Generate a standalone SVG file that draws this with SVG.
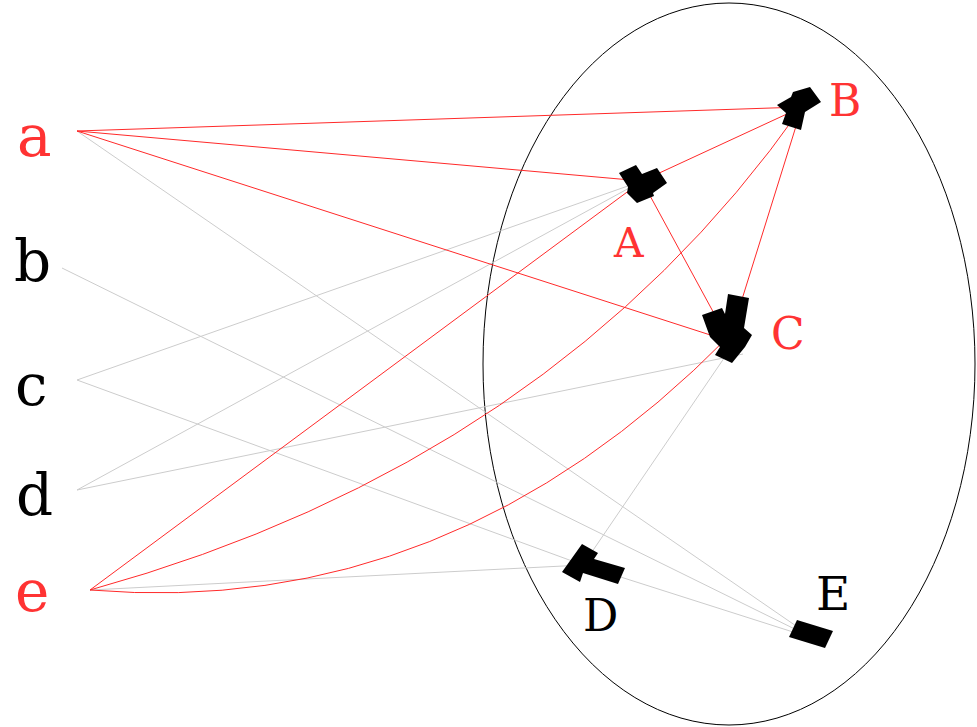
<svg xmlns="http://www.w3.org/2000/svg" width="977" height="727" viewBox="0 0 977 727">
<style>
text{font-family:"DejaVu Serif",serif;}
.lo{font-size:58px;}
.up{font-size:44px;}
.red{fill:#ff3333;}
.blk{fill:#000;}
.er{stroke:#ff2a2a;stroke-width:1;fill:none;}
.eg{stroke:#cccccc;stroke-width:1;fill:none;}
.mk{fill:#000;stroke:none;}
</style>
<rect width="977" height="727" fill="#fff"/>
<ellipse id="set" cx="729" cy="364" rx="246" ry="361" fill="none" stroke="#000" stroke-width="1"/>
<g id="connectors">
<line class="eg" x1="77" y1="131" x2="815" y2="639"/>
<line class="eg" x1="62" y1="268" x2="815" y2="639"/>
<line class="eg" x1="77" y1="380" x2="642" y2="181"/>
<line class="eg" x1="77" y1="380" x2="583" y2="565"/>
<line class="eg" x1="77" y1="490" x2="642" y2="181"/>
<line class="eg" x1="77" y1="490" x2="743" y2="354"/>
<line class="eg" x1="90" y1="590" x2="583" y2="565"/>
<line class="eg" x1="733" y1="345" x2="583" y2="565"/>
<line class="eg" x1="583" y1="565" x2="815" y2="639"/>
<line class="er" x1="77" y1="131" x2="802" y2="107"/>
<line class="er" x1="77" y1="131" x2="642" y2="181"/>
<line class="er" x1="77" y1="131" x2="729" y2="341"/>
<line class="er" x1="90" y1="590" x2="642" y2="181"/>
<path class="er" d="M90,590 Q553,462 802,107"/>
<path class="er" d="M90,590 Q450,620 729,336"/>
<line class="er" x1="642" y1="181" x2="802" y2="107"/>
<line class="er" x1="642" y1="181" x2="729" y2="341"/>
<line class="er" x1="802" y1="107" x2="729" y2="341"/>
</g>
<g id="node-a"><text class="lo red" x="17" y="156">a</text></g>
<g id="node-b"><text class="lo blk" x="14" y="281">b</text></g>
<g id="node-c"><text class="lo blk" x="15" y="405">c</text></g>
<g id="node-d"><text class="lo blk" x="16" y="515">d</text></g>
<g id="node-e"><text class="lo red" x="15" y="611">e</text></g>
<g id="node-A">
<polygon class="mk" points="619,173 636,165 642,174 657,168 667,183 653,193 654,196 637,203 627,193 628,187"/>
<text class="red" style="font-size:41px" x="614" y="257">A</text>
</g>
<g id="node-B">
<polygon class="mk" points="777,105 791,97 793,92 810,87 821,102 805,112 801,130 782,124 786,113"/>
<text class="up red" x="829" y="116">B</text>
</g>
<g id="node-C">
<polygon class="mk" points="702,315 722,308 725,314 728,294 749,298 744,328 752,335 745,347 732,363 715,355 720,347 710,337"/>
<text class="up red" x="771" y="349">C</text>
</g>
<g id="node-D">
<polygon class="mk" points="582,544 598,553 594,559 625,568 618,584 583,573 580,582 562,572"/>
<text class="up blk" x="583" y="631">D</text>
</g>
<g id="node-E">
<polygon class="mk" points="797,620 833,631 825,648 789,637"/>
<text class="blk" style="font-size:47px" x="816" y="610">E</text>
</g>
</svg>
